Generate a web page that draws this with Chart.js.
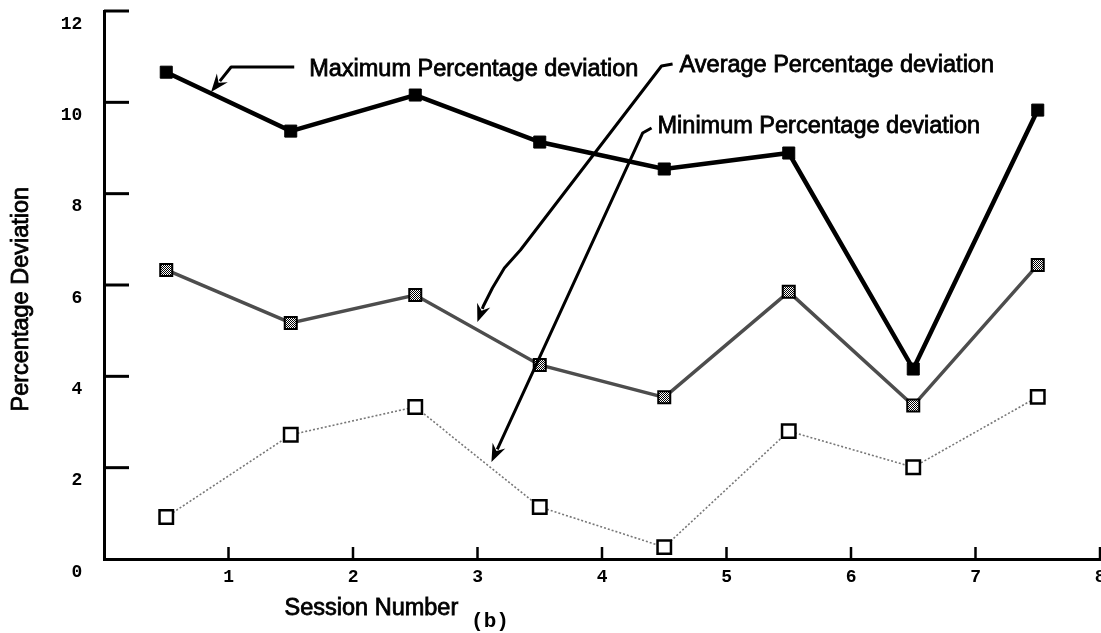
<!DOCTYPE html>
<html><head><meta charset="utf-8">
<script src="https://cdn.jsdelivr.net/npm/chart.js@4.4.0/dist/chart.umd.min.js"></script>
<style>html,body{margin:0;padding:0;background:#fff;}canvas{display:block;}</style>
</head><body>
<canvas id="c" width="1101" height="633"></canvas>
<script>
// ---- data ----
const sessions = [0.5, 1.5, 2.5, 3.5, 4.5, 5.5, 6.5, 7.5];
const maxDeviation = [10.66, 9.37, 10.16, 9.13, 8.54, 8.89, 4.16, 9.83];
const avgDeviation = [6.33, 5.17, 5.78, 4.25, 3.54, 5.85, 3.36, 6.44];
const minDeviation = [0.92, 2.72, 3.33, 1.14, 0.26, 2.80, 2.01, 3.55];
const xTickValues = [1, 2, 3, 4, 5, 6, 7, 8];
const yTickValues = [0, 2, 4, 6, 8, 10, 12];
const seriesNames = ['Maximum Percentage deviation', 'Average Percentage deviation', 'Minimum Percentage deviation'];
const xTitle = 'Session Number';
const yTitle = 'Percentage Deviation';
const caption = '(b)';

// annotation anchors in data units
const labelAnchors = [[1.648, 10.71], [4.623, 10.80], [4.446, 9.46]];
const leaderPaths = [
  [[1.528, 10.774], [1.021, 10.774], [0.860, 10.226]],
  [[4.567, 10.839], [4.478, 10.795], [3.345, 6.766], [3.216, 6.372], [3.120, 5.934], [3.047, 5.540], [2.999, 5.190]],
  [[4.398, 9.438], [4.326, 9.328], [3.112, 2.124]]
];
const xTitleAnchor = [1.45, -1.08];
const yTitleAnchor = [-0.66, 5.69];
const captionAnchor = [3.1, -1.38];

function checker() {
  const c = document.createElement('canvas'); c.width = 2; c.height = 2;
  const g = c.getContext('2d');
  g.fillStyle = '#fff'; g.fillRect(0, 0, 2, 2);
  g.fillStyle = '#000'; g.fillRect(0, 0, 1, 1); g.fillRect(1, 1, 1, 1);
  return g.createPattern(c, 'repeat');
}
const pts = arr => sessions.map((s, i) => ({x: s, y: arr[i]}));

const TEXT_FONT = '23.5px "Liberation Sans", Arial, sans-serif';

const decorPlugin = {
  id: 'decor',
  afterDraw(chart) {
    const ctx = chart.ctx, xs = chart.scales.x, ys = chart.scales.y, a = chart.chartArea;
    const X = v => xs.getPixelForValue(v), Y = v => ys.getPixelForValue(v);
    ctx.save();
    ctx.strokeStyle = '#000'; ctx.lineCap = 'butt';
    // inward ticks
    ctx.lineWidth = 3;
    yTickValues.forEach(v => { if (v === 0) return; ctx.beginPath(); ctx.moveTo(a.left, Y(v)); ctx.lineTo(a.left + 25, Y(v)); ctx.stroke(); });
    ctx.lineWidth = 2.5;
    xTickValues.forEach(v => { ctx.beginPath(); ctx.moveTo(X(v), a.bottom); ctx.lineTo(X(v), a.bottom - 12); ctx.stroke(); });
    // texts
    ctx.fillStyle = '#000'; ctx.font = TEXT_FONT; ctx.textBaseline = 'middle'; ctx.textAlign = 'left';
    ctx.lineWidth = 0.8;
    seriesNames.forEach((t, i) => { const px = X(labelAnchors[i][0]), py = Y(labelAnchors[i][1]); ctx.fillText(t, px, py); ctx.strokeText(t, px, py); });
    ctx.fillText(xTitle, X(xTitleAnchor[0]), Y(xTitleAnchor[1])); ctx.strokeText(xTitle, X(xTitleAnchor[0]), Y(xTitleAnchor[1]));
    ctx.save();
    ctx.translate(X(yTitleAnchor[0]), Y(yTitleAnchor[1])); ctx.rotate(-Math.PI / 2); ctx.textAlign = 'center';
    ctx.fillText(yTitle, 0, 0); ctx.strokeText(yTitle, 0, 0);
    ctx.restore();
    ctx.font = 'bold 21px "Liberation Mono", monospace'; ctx.textAlign = 'center';
    ctx.fillText(caption, X(captionAnchor[0]), Y(captionAnchor[1]));
    // leader arrows
    ctx.lineWidth = 3; ctx.lineJoin = 'round';
    leaderPaths.forEach(path => {
      const p = path.map(q => [X(q[0]), Y(q[1])]);
      const n = p.length;
      const [tx, ty] = p[n - 1], [sx, sy] = p[n - 2];
      const ang = Math.atan2(ty - sy, tx - sx);
      const L = 18, W = 7;
      ctx.beginPath(); ctx.moveTo(p[0][0], p[0][1]);
      for (let i = 1; i < n - 1; i++) ctx.lineTo(p[i][0], p[i][1]);
      ctx.lineTo(tx - Math.cos(ang) * (L - 4), ty - Math.sin(ang) * (L - 4));
      ctx.stroke();
      ctx.beginPath();
      ctx.moveTo(tx, ty);
      ctx.lineTo(tx - Math.cos(ang) * L + Math.sin(ang) * W, ty - Math.sin(ang) * L - Math.cos(ang) * W);
      ctx.lineTo(tx - Math.cos(ang) * (L - 6), ty - Math.sin(ang) * (L - 6));
      ctx.lineTo(tx - Math.cos(ang) * L - Math.sin(ang) * W, ty - Math.sin(ang) * L + Math.cos(ang) * W);
      ctx.closePath(); ctx.fill();
    });
    ctx.restore();
  }
};

const tickFont = {family: '"Liberation Mono", monospace', weight: 'bold', size: 18};

new Chart(document.getElementById('c'), {
  type: 'line',
  data: {
    datasets: [
      {label: seriesNames[0], data: pts(maxDeviation), borderColor: '#000', borderWidth: 4.5,
       pointStyle: 'rect', pointRadius: 8.5, pointBackgroundColor: '#000', pointBorderColor: '#000', pointBorderWidth: 1},
      {label: seriesNames[1], data: pts(avgDeviation), borderColor: '#4d4d4d', borderWidth: 3.5,
       pointStyle: 'rect', pointRadius: 8.5, pointBackgroundColor: checker(), pointBorderColor: '#000', pointBorderWidth: 2},
      {label: seriesNames[2], data: pts(minDeviation), borderColor: '#777', borderWidth: 1.6, borderDash: [2, 2],
       pointStyle: 'rect', pointRadius: 9.5, pointBackgroundColor: '#fff', pointBorderColor: '#000', pointBorderWidth: 2.5}
    ]
  },
  options: {
    responsive: false, animation: false, devicePixelRatio: 1,
    layout: {autoPadding: false, padding: {top: 11, right: 1, left: 0, bottom: 0}},
    plugins: {legend: {display: false}, tooltip: {enabled: false}},
    elements: {line: {tension: 0}},
    scales: {
      x: {
        type: 'linear', min: 0, max: 8,
        afterBuildTicks: s => { s.ticks = xTickValues.map(v => ({value: v})); },
        afterFit: s => { s.height = 74; },
        grid: {display: false, drawTicks: false, tickLength: 0},
        border: {display: true, color: '#000', width: 3},
        ticks: {font: Object.assign({}, tickFont, {lineHeight: 2}), color: '#000', padding: 0, align: 'end', labelOffset: 5.5,
                maxRotation: 0, autoSkip: false}
      },
      y: {
        type: 'linear', min: 0, max: 12,
        afterBuildTicks: s => { s.ticks = yTickValues.map(v => ({value: v})); },
        afterFit: s => { s.width = 104; },
        grid: {display: false, drawTicks: false, tickLength: 0},
        border: {display: true, color: '#000', width: 3},
        ticks: {font: tickFont, color: '#000', padding: 0, labelOffset: 13, autoSkip: false,
                callback: v => v + '  '}
      }
    }
  },
  plugins: [decorPlugin]
});
</script>
</body></html>
